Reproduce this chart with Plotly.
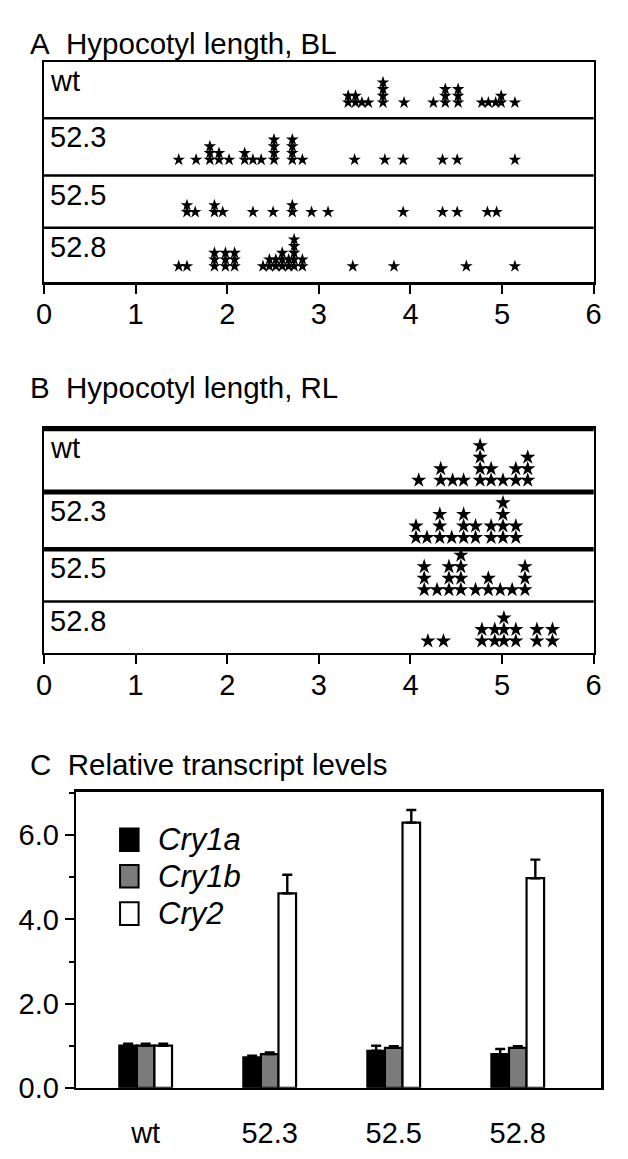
import plotly.graph_objects as go

FIG_W, FIG_H = 628, 1159
FONT = "Liberation Sans, Arial, Helvetica, sans-serif"

# ---------------- data ----------------
row_labels = ["wt", "52.3", "52.5", "52.8"]

# Panel A: hypocotyl length under blue light (one value per seedling)
bl_wt = [3.32, 3.32, 3.40, 3.40, 3.47, 3.54, 3.70, 3.70, 3.70, 3.70, 3.93, 4.25,
         4.38, 4.38, 4.38, 4.52, 4.52, 4.52, 4.78, 4.85, 4.93, 4.99, 4.99, 5.14]
bl_523 = [1.47, 1.66, 1.81, 1.81, 1.81, 1.91, 1.91, 2.02, 2.19, 2.19, 2.28, 2.37,
          2.51, 2.51, 2.51, 2.51, 2.71, 2.71, 2.71, 2.71, 2.82, 3.39, 3.72, 3.92,
          4.35, 4.51, 5.14]
bl_525 = [1.56, 1.56, 1.65, 1.86, 1.86, 1.95, 2.28, 2.50, 2.71, 2.71, 2.92, 3.10,
          3.92, 4.35, 4.51, 4.84, 4.94]
bl_528 = [1.47, 1.56, 1.86, 1.86, 1.86, 1.98, 1.98, 1.98, 2.08, 2.08, 2.08, 2.39,
          2.46, 2.46, 2.53, 2.53, 2.60, 2.60, 2.60, 2.67, 2.67, 2.73, 2.73, 2.73,
          2.73, 2.73, 2.82, 2.82, 3.37, 3.82, 4.61, 5.14]

# Panel B: hypocotyl length under red light
rl_wt = [4.09, 4.33, 4.33, 4.46, 4.58, 4.76, 4.76, 4.76, 4.76, 4.88, 4.88, 5.01,
         5.15, 5.15, 5.28, 5.28, 5.28]
rl_523 = [4.06, 4.06, 4.18, 4.32, 4.32, 4.32, 4.45, 4.58, 4.58, 4.58, 4.71, 4.71,
          4.88, 4.88, 5.01, 5.01, 5.01, 5.01, 5.15, 5.15]
rl_525 = [4.15, 4.15, 4.15, 4.29, 4.42, 4.42, 4.42, 4.55, 4.55, 4.55, 4.55, 4.71,
          4.85, 4.85, 4.98, 5.11, 5.25, 5.25, 5.25]
rl_528 = [4.19, 4.36, 4.78, 4.78, 4.92, 4.92, 5.02, 5.02, 5.02, 5.15, 5.15, 5.38,
          5.38, 5.55, 5.55]

length_ticks = [0, 1, 2, 3, 4, 5, 6]

# Panel C: relative transcript levels
lines = ["wt", "52.3", "52.5", "52.8"]
genes = ["Cry1a", "Cry1b", "Cry2"]
cry1a = [1.00, 0.72, 0.88, 0.80]
cry1a_err = [0.05, 0.04, 0.12, 0.12]
cry1b = [1.00, 0.80, 0.95, 0.95]
cry1b_err = [0.05, 0.04, 0.04, 0.04]
cry2 = [1.00, 4.62, 6.30, 4.98]
cry2_err = [0.05, 0.44, 0.30, 0.44]
level_ticks = [0, 2, 4, 6]
level_ticktext = ["0.0", "2.0", "4.0", "6.0"]

# ---------------- helpers ----------------
def py(p):  # pixel from top -> paper y
    return 1 - p / FIG_H

def px(p):
    return p / FIG_W

fig = go.Figure()
shapes = []
annotations = []
LABEL_SIZE = 29


def dot_panel(xa, ya, data_rows, row_heights, base, spacing, size, sep_widths):
    total = sum(row_heights)
    tops = []
    t = total
    for h in row_heights:
        tops.append(t)
        t -= h
    for vals, top, h in zip(data_rows, tops, row_heights):
        bottom = top - h
        counts = {}
        xs, ys = [], []
        for v in vals:
            k = round(v, 2)
            lvl = counts.get(k, 0)
            counts[k] = lvl + 1
            xs.append(v)
            ys.append(bottom + base + lvl * spacing)
        fig.add_trace(go.Scatter(
            x=xs, y=ys, mode="markers", xaxis=xa, yaxis=ya,
            marker=dict(symbol="star", size=size, color="black", line=dict(width=0)),
            showlegend=False, hoverinfo="skip"))
    for lab, top in zip(row_labels, tops):
        annotations.append(dict(
            text=lab, xref=f"{xa} domain", x=0.007, xanchor="left",
            yref=ya, y=top - 1, yanchor="top", showarrow=False,
            font=dict(family=FONT, size=LABEL_SIZE, color="black")))
    for top, w in zip(tops[1:], sep_widths[1:]):
        shapes.append(dict(type="line", xref=f"{xa} domain", x0=0, x1=1,
                           yref=ya, y0=top, y1=top,
                           line=dict(color="black", width=w)))
    if sep_widths[0] > 2.5:
        shapes.append(dict(type="line", xref=f"{xa} domain", x0=0, x1=1,
                           yref=ya, y0=total, y1=total,
                           line=dict(color="black", width=sep_widths[0])))
    return total


# Panel A (rows top->bottom)
A_heights = [57, 58, 53, 55]
totA = dot_panel("x", "y", [bl_wt, bl_523, bl_525, bl_528], A_heights,
                 16, 6.8, 9.5, [2.5, 2.5, 2.5, 2.5])
# Panel B
B_heights = [64, 58, 53, 52]
totB = dot_panel("x2", "y2", [rl_wt, rl_523, rl_525, rl_528], B_heights,
                 12, 11.7, 11.5, [4.5, 5, 4.5, 2.5])

# Panel C bars
bar_colors = ["black", "#7b7b7b", "white"]
for g, vals, err, col in zip(genes, [cry1a, cry1b, cry2],
                             [cry1a_err, cry1b_err, cry2_err], bar_colors):
    fig.add_trace(go.Bar(
        x=lines, y=vals, name=g, xaxis="x3", yaxis="y3",
        marker=dict(color=col, line=dict(color="black", width=2.2)),
        error_y=dict(type="data", array=err, arrayminus=[0] * len(err),
                     symmetric=False, color="black", thickness=2.4, width=5),
        showlegend=False, hoverinfo="skip"))

# legend drawn as swatches + italic labels inside panel C
leg_top = [840, 877, 915]
for g, col, top in zip(genes, bar_colors, leg_top):
    shapes.append(dict(type="rect", xref="paper", yref="paper",
                       x0=px(115), x1=px(134), y0=py(top + 23), y1=py(top),
                       fillcolor=col, line=dict(color="black", width=2)))
    annotations.append(dict(text=f"<i>{g}</i>", xref="paper", yref="paper",
                            x=px(152), y=py(top + 11.5), xanchor="left",
                            yanchor="middle", showarrow=False,
                            font=dict(family=FONT, size=31, color="black")))

# panel titles
for txt, ycen in [("A\u00a0\u00a0Hypocotyl length, BL", 44),
                  ("B\u00a0\u00a0Hypocotyl length, RL", 393),
                  ("C\u00a0\u00a0Relative transcript levels", 775)]:
    annotations.append(dict(text=txt, xref="paper", yref="paper", x=px(21),
                            y=py(ycen), xanchor="left", yanchor="middle",
                            showarrow=False,
                            font=dict(family=FONT, size=29.5, color="black")))

tickfont = dict(family=FONT, size=29, color="black")
xdom = [px(37), px(601)]

len_axis = dict(range=[0, 6], tickvals=length_ticks, ticks="outside", ticklen=9,
                tickwidth=2, tickcolor="black", showline=True, linewidth=2.5,
                linecolor="black", mirror=True, showgrid=False, zeroline=False,
                tickfont=tickfont, domain=xdom, ticklabelstandoff=-4)

fig.update_layout(
    width=FIG_W, height=FIG_H, margin=dict(l=0, r=0, t=0, b=0),
    paper_bgcolor="white", plot_bgcolor="white",
    xaxis=dict(**len_axis, anchor="y"),
    yaxis=dict(range=[0, totA], domain=[py(286), py(63)], showline=True,
               linewidth=2.5, linecolor="black", mirror=True, showgrid=False,
               zeroline=False, showticklabels=False, ticks="", anchor="x"),
    xaxis2=dict(**len_axis, anchor="y2"),
    yaxis2=dict(range=[0, totB], domain=[py(662), py(435)], showline=True,
                linewidth=2.5, linecolor="black", mirror=True, showgrid=False,
                zeroline=False, showticklabels=False, ticks="", anchor="x2"),
    xaxis3=dict(domain=[px(70), px(609)], anchor="y3", range=[-0.56, 3.675],
                showline=True, linewidth=2.5, linecolor="black", mirror=True,
                ticks="", showgrid=False, tickfont=tickfont,
                ticklabelstandoff=18),
    yaxis3=dict(domain=[py(1103), py(803)], anchor="x3", range=[0, 7.03],
                tickvals=level_ticks, ticktext=level_ticktext, ticks="outside",
                ticklen=9, tickwidth=2, tickcolor="black", showline=True,
                linewidth=2.5, linecolor="black", mirror=True, showgrid=False,
                zeroline=False, tickfont=tickfont,
                minor=dict(dtick=1, ticks="outside", ticklen=5, tickwidth=2,
                           tickcolor="black", showgrid=False)),
    barmode="group", bargap=0.575, bargroupgap=0,
    shapes=shapes, annotations=annotations, showlegend=False,
)

fig.write_html("out.html",
               config={"displayModeBar": False, "staticPlot": True},
               post_script="document.body.style.margin='0';"
                           "document.body.style.overflow='hidden';")
